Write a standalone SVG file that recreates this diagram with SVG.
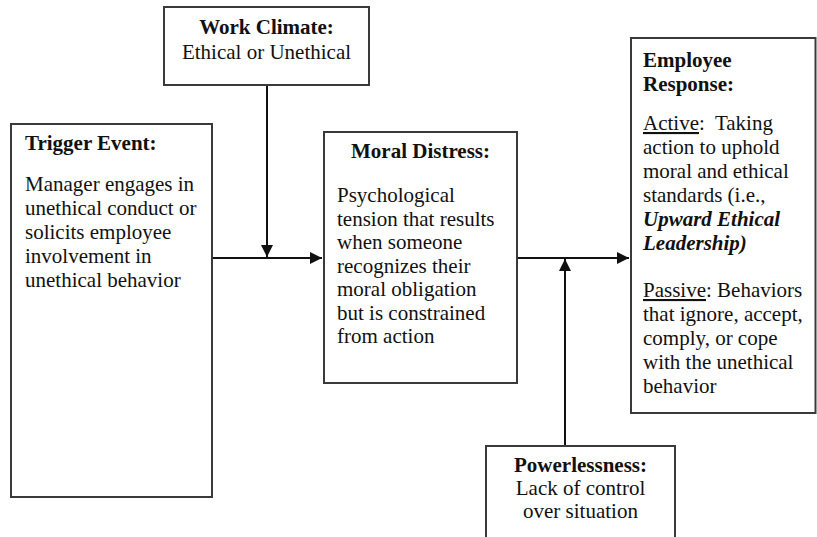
<svg xmlns="http://www.w3.org/2000/svg" width="817" height="537" viewBox="0 0 817 537">
<defs>
<style>
.box{fill:#fff;stroke:#3a3a3a;stroke-width:2}
.t{font-family:"Liberation Serif","Times New Roman",serif;font-size:21px;fill:#111}
.b{font-weight:bold}
.c{text-anchor:middle}
.ln{stroke:#111;stroke-width:2;fill:none}
</style>
<marker id="ah" viewBox="0 0 10 10" refX="10" refY="5" markerWidth="6" markerHeight="6" markerUnits="strokeWidth" orient="auto">
<path d="M0,0 L10,5 L0,10 Z" fill="#111"/>
</marker>
</defs>
<rect width="817" height="537" fill="#fff"/>
<g id="connectors">
<line class="ln" x1="212" y1="258" x2="322" y2="258" marker-end="url(#ah)"/>
<line class="ln" x1="267" y1="85" x2="267" y2="257" marker-end="url(#ah)"/>
<line class="ln" x1="517" y1="258" x2="629" y2="258" marker-end="url(#ah)"/>
<line class="ln" x1="565" y1="446" x2="565" y2="259" marker-end="url(#ah)"/>
</g>
<g id="work-climate">
<rect class="box" x="164" y="7" width="205" height="78"/>
<text class="t b c" x="266.5" y="34">Work Climate:</text>
<text class="t c" x="266.5" y="59">Ethical or Unethical</text>
</g>
<g id="trigger-event">
<rect class="box" x="11" y="124" width="201" height="373"/>
<text class="t b" x="25" y="150">Trigger Event:</text>
<text class="t" x="25" y="191">Manager engages in</text>
<text class="t" x="25" y="215">unethical conduct or</text>
<text class="t" x="25" y="239">solicits employee</text>
<text class="t" x="25" y="263">involvement in</text>
<text class="t" x="25" y="287">unethical behavior</text>
</g>
<g id="moral-distress">
<rect class="box" x="324" y="132" width="193" height="251"/>
<text class="t b c" x="420.5" y="158">Moral Distress:</text>
<text class="t" x="337" y="202">Psychological</text>
<text class="t" x="337" y="225.5">tension that results</text>
<text class="t" x="337" y="249">when someone</text>
<text class="t" x="337" y="272.5">recognizes their</text>
<text class="t" x="337" y="296">moral obligation</text>
<text class="t" x="337" y="319.5">but is constrained</text>
<text class="t" x="337" y="343">from action</text>
</g>
<g id="employee-response">
<rect class="box" x="631" y="38" width="184.5" height="375"/>
<text class="t b" x="643" y="67">Employee</text>
<text class="t b" x="643" y="91">Response:</text>
<text class="t" x="643" y="130"><tspan text-decoration="underline">Active</tspan>:&#160; Taking</text>
<text class="t" x="643" y="154">action to uphold</text>
<text class="t" x="643" y="178">moral and ethical</text>
<text class="t" x="643" y="202">standards (i.e.,</text>
<text class="t b" x="643" y="226" font-style="italic">Upward Ethical</text>
<text class="t b" x="643" y="250" font-style="italic">Leadership)</text>
<text class="t" x="643" y="297"><tspan text-decoration="underline">Passive</tspan>: Behaviors</text>
<text class="t" x="643" y="321">that ignore, accept,</text>
<text class="t" x="643" y="345">comply, or cope</text>
<text class="t" x="643" y="369">with the unethical</text>
<text class="t" x="643" y="393">behavior</text>
</g>
<g id="powerlessness">
<rect class="box" x="486" y="446" width="189" height="100"/>
<text class="t b c" x="580.5" y="472">Powerlessness:</text>
<text class="t c" x="580.5" y="495">Lack of control</text>
<text class="t c" x="580.5" y="518">over situation</text>
</g>
</svg>
